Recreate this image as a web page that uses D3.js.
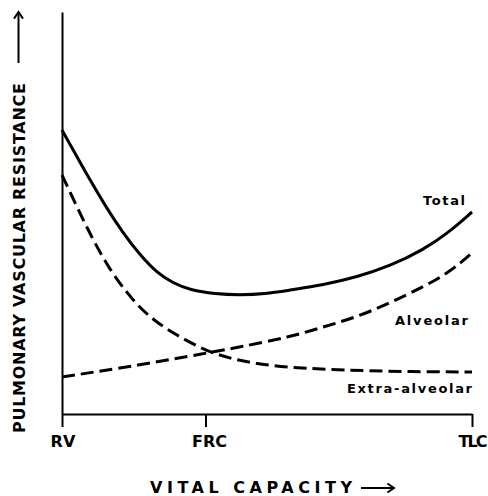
<!DOCTYPE html>
<html>
<head>
<meta charset="utf-8">
<script src="https://cdn.jsdelivr.net/npm/d3@7"></script>
<style>
  body { margin: 0; background: #fff; }
  text { font-family: "DejaVu Sans", sans-serif; font-weight: bold; fill: #000; }
</style>
</head>
<body>
<svg width="488" height="496"></svg>
<script>
// x = % of vital capacity (RV = 0, TLC = 100), y = resistance (arbitrary units)
const tickValues = [0, 35, 100];
const tickLabels = ["RV", "FRC", "TLC"];

const totalX = [0, 3.41, 6.83, 10.73, 14.88, 19.02, 23.17, 27.07, 31.22, 37.32, 43.41, 49.51, 55.61, 63.66, 71.95, 80, 88.05, 94.15, 100];
const totalY = [71, 64.75, 58.5, 51.75, 45.25, 39.75, 35.25, 32.75, 31, 30, 29.75, 30, 31, 32.25, 34.25, 37, 41, 45.25, 50.5];

const alveolarX = [0, 19.02, 35.37, 43.41, 55.61, 63.66, 71.95, 80, 88.05, 94.63, 100];
const alveolarY = [9.25, 12.25, 15.25, 16.75, 19.25, 21.75, 24.25, 27.75, 31.75, 35.5, 40.25];

const extraX = [0, 3.66, 7.56, 11.71, 15.85, 19.76, 23.41, 27.07, 35.37, 43.41, 51.46, 59.76, 67.8, 82.4, 100];
const extraY = [59.75, 51.75, 43.5, 36, 30.25, 25.75, 22.75, 20.25, 15.5, 13.25, 12, 11.4, 11, 10.6, 10.5];

const svg = d3.select("svg");

const x = d3.scaleLinear().domain([0, 100]).range([62, 472]);
const y = d3.scaleLinear().domain([0, 100.5]).range([414, 12]);

// curves
const line = d3.line()
    .x((d) => x(d[0]))
    .y((d) => y(d[1]))
    .curve(d3.curveBasis);

const series = [
    { xs: totalX, ys: totalY, dash: null },
    { xs: alveolarX, ys: alveolarY, dash: "13,6" },
    { xs: extraX, ys: extraY, dash: "13,6" },
];

series.forEach((s) => {
    svg.append("path")
        .attr("d", line(s.xs.map((v, i) => [v, s.ys[i]])))
        .attr("fill", "none")
        .attr("stroke", "#000")
        .attr("stroke-width", 3)
        .attr("stroke-dasharray", s.dash);
});

// axes
const labelWidths = [25, 35, 29];
const labelShift = [0.5, 3.5, 0.5];
const xAxis = svg.append("g")
    .attr("transform", `translate(0,${y(0)})`)
    .call(d3.axisBottom(x)
        .tickValues(tickValues)
        .tickFormat((d, i) => tickLabels[i])
        .tickSize(13)
        .tickSizeOuter(0));
xAxis.select(".domain").attr("stroke-width", 2);
xAxis.selectAll(".tick line").attr("stroke-width", 2);
xAxis.selectAll(".tick text")
    .attr("y", 33)
    .attr("dy", null)
    .attr("x", (d, i) => labelShift[i])
    .attr("textLength", (d, i) => labelWidths[i])
    .style("font-size", "16px")
    .style("font-family", "DejaVu Sans, sans-serif")
    .style("font-weight", "bold");

const yAxis = svg.append("g")
    .attr("transform", `translate(${x(0)},0)`)
    .call(d3.axisLeft(y).tickValues([]).tickSizeOuter(0));
yAxis.select(".domain").attr("stroke-width", 2);

// series labels
svg.append("text").attr("x", 465).attr("y", 205)
    .attr("text-anchor", "end").style("font-size", "13px")
    .attr("textLength", 42).text("Total");
svg.append("text").attr("x", 468).attr("y", 325)
    .attr("text-anchor", "end").style("font-size", "13px")
    .attr("textLength", 73).text("Alveolar");
svg.append("text").attr("x", 472).attr("y", 393)
    .attr("text-anchor", "end").style("font-size", "13px")
    .attr("textLength", 125).text("Extra-alveolar");

// axis titles with arrows
function arrow(x1, y1, x2, y2) {
    const a = Math.atan2(y2 - y1, x2 - x1);
    const h = 8;
    svg.append("line")
        .attr("x1", x1).attr("y1", y1).attr("x2", x2).attr("y2", y2)
        .attr("stroke", "#000").attr("stroke-width", 2);
    svg.append("path")
        .attr("d", `M${x2 - h * Math.cos(a - 0.6)},${y2 - h * Math.sin(a - 0.6)}L${x2},${y2}L${x2 - h * Math.cos(a + 0.6)},${y2 - h * Math.sin(a + 0.6)}`)
        .attr("fill", "none").attr("stroke", "#000").attr("stroke-width", 2);
}

svg.append("text")
    .attr("x", 150).attr("y", 493)
    .style("font-size", "16px")
    .attr("textLength", 202)
    .text("VITAL CAPACITY");
arrow(361, 488, 394, 488);

svg.append("text")
    .attr("transform", "translate(25,258) rotate(-90)")
    .attr("text-anchor", "middle")
    .style("font-size", "16px")
    .attr("textLength", 350)
    .text("PULMONARY VASCULAR RESISTANCE");
arrow(18.5, 63, 18.5, 12);
</script>
</body>
</html>
